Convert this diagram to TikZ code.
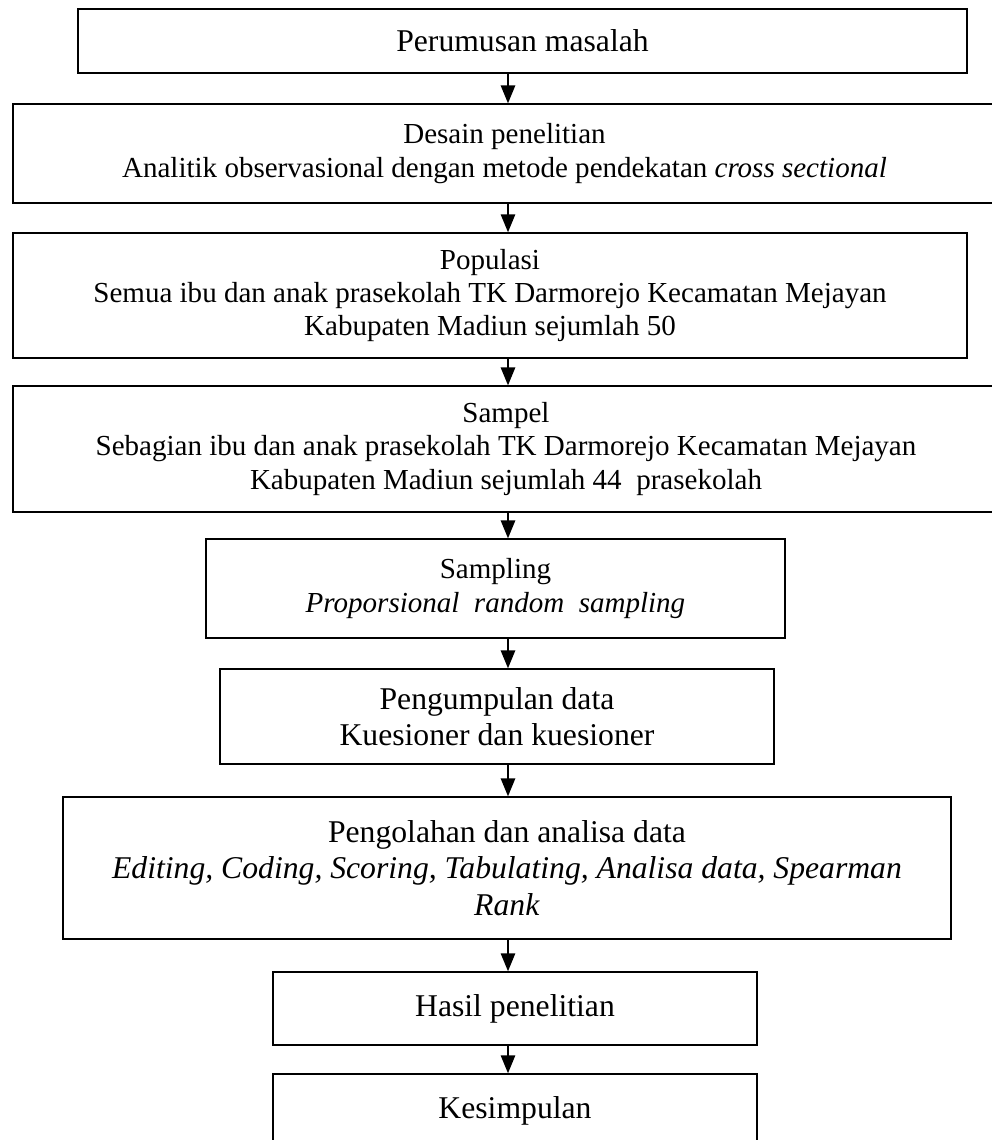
\documentclass[tikz,border=0pt]{standalone}
\usepackage{fontspec}
\setmainfont{Liberation Serif}
\usetikzlibrary{arrows.meta,positioning}

\tikzset{
  stage/.style={draw, rectangle, line width=0.5pt, align=center, inner sep=0pt,
    font=\fontsize{11}{12.65}\selectfont},
  stagebig/.style={stage, font=\fontsize{12}{13.8}\selectfont},
  flow/.style={-{Triangle[length=6.8pt,width=5.4pt]}, line width=0.75pt},
}

\begin{document}
\begin{tikzpicture}[x=0.3789pt, y=-0.3789pt]
        \useasboundingbox (0,0) rectangle (992,1140);

        % Stages, top to bottom
        \node[stagebig, minimum width=336.8pt, minimum height=24.25pt] (masalah) at (522.5,41) {Perumusan masalah};
        \node[stage, minimum width=372.5pt, minimum height=37.5pt] (desain) at (504.5,153.5) {Desain penelitian\\Analitik observasional dengan metode pendekatan \textit{cross sectional}};
        \node[stage, minimum width=361.5pt, minimum height=47.4pt] (populasi) at (490,295.5) {Populasi\\Semua ibu dan anak prasekolah TK Darmorejo Kecamatan Mejayan\\Kabupaten Madiun sejumlah 50};
        \node[stage, minimum width=373.6pt, minimum height=47.7pt] (sampel) at (506,449) {Sampel\\Sebagian ibu dan anak prasekolah TK Darmorejo Kecamatan Mejayan\\Kabupaten Madiun sejumlah 44\ \ prasekolah};
        \node[stage, minimum width=219.4pt, minimum height=37.5pt] (sampling) at (495.5,588.5) {Sampling\\\textit{Proporsional\ \ random\ \ sampling}};
        \node[stagebig, minimum width=209.9pt, minimum height=36pt] (kumpul) at (497,716.5) {Pengumpulan data\\Kuesioner dan kuesioner};
        \node[stagebig, minimum width=336.5pt, minimum height=53.8pt] (olah) at (507,868) {Pengolahan dan analisa data\\\textit{Editing, Coding, Scoring, Tabulating, Analisa data, Spearman}\\\textit{Rank}};
        \node[stagebig, minimum width=183.4pt, minimum height=27.7pt] (hasil) at (515,1008.5) {Hasil penelitian};
        \node[stagebig, minimum width=183.4pt, minimum height=27.7pt] (simpul) at (515,1110.5) {Kesimpulan};

        % Arrows down the middle
        \coordinate (ax) at (508,0);
        \draw[flow] (masalah.south -| ax) -- (desain.north -| ax);
        \draw[flow] (desain.south -| ax) -- (populasi.north -| ax);
        \draw[flow] (populasi.south -| ax) -- (sampel.north -| ax);
        \draw[flow] (sampel.south -| ax) -- (sampling.north -| ax);
        \draw[flow] (sampling.south -| ax) -- (kumpul.north -| ax);
        \draw[flow] (kumpul.south -| ax) -- (olah.north -| ax);
        \draw[flow] (olah.south -| ax) -- (hasil.north -| ax);
        \draw[flow] (hasil.south -| ax) -- (simpul.north -| ax);
\end{tikzpicture}
\end{document}
